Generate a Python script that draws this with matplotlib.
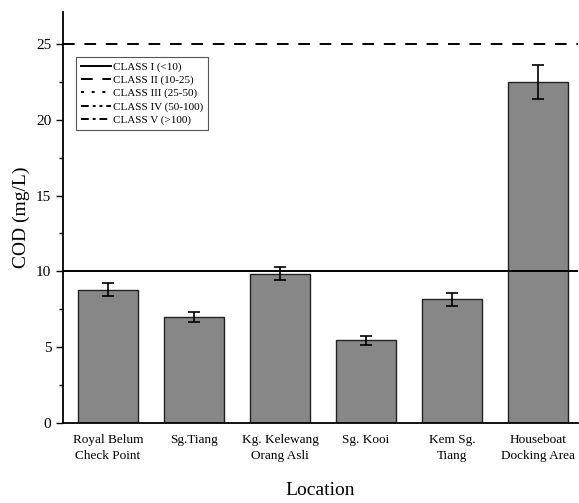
import numpy as np
import matplotlib
matplotlib.use("Agg")
import matplotlib.pyplot as plt
from matplotlib.ticker import MultipleLocator

locations = ["Royal Belum\nCheck Point", "Sg.Tiang", "Kg. Kelewang\nOrang Asli",
             "Sg. Kooi", "Kem Sg.\nTiang", "Houseboat\nDocking Area"]
cod = [8.8, 7.0, 9.85, 5.45, 8.15, 22.5]
cod_err = [0.45, 0.35, 0.45, 0.3, 0.4, 1.1]

class_labels = ["CLASS I (<10)", "CLASS II (10-25)", "CLASS III (25-50)",
                "CLASS IV (50-100)", "CLASS V (>100)"]
class_styles = ["-", (0, (6, 5)), (0, (1.5, 4)), (0, (4, 2, 1.5, 2, 1.5, 2)), (0, (4, 2, 1.5, 2))]
class_limits = [10, 25]

plt.rcParams["font.family"] = ["Liberation Serif", "DejaVu Serif"]

fig = plt.figure(figsize=(5.79, 5.03), dpi=100)
ax = fig.add_axes([0.109, 0.159, 0.889, 0.817])

x = np.arange(1, len(cod) + 1)
ax.bar(x, cod, width=0.7, color="#878787", edgecolor="#222222", linewidth=1.0,
       yerr=cod_err, capsize=4, error_kw={"elinewidth": 1.2, "capthick": 1.2, "ecolor": "black"})

handles = []
for i, (lab, ls) in enumerate(zip(class_labels, class_styles)):
    if i < len(class_limits):
        h = ax.axhline(class_limits[i], color="black", linestyle=ls, linewidth=1.4, label=lab)
    else:
        h, = ax.plot([], [], color="black", linestyle=ls, linewidth=1.4, label=lab)
    handles.append(h)

leg = ax.legend(handles=handles, loc="upper left", bbox_to_anchor=(0.014, 0.905),
                fontsize=8, frameon=True, fancybox=False, edgecolor="#555555",
                handlelength=2.7, handletextpad=0.2, labelspacing=0.3, borderpad=0.45)
leg.get_frame().set_linewidth(0.8)
leg.get_frame().set_alpha(1)

ax.set_xlim(0.48, 6.46)
ax.set_ylim(0, 27.1)
ax.yaxis.set_major_locator(MultipleLocator(5))
ax.yaxis.set_minor_locator(MultipleLocator(2.5))
ax.set_xticks(x)
ax.set_xticklabels(locations, fontsize=9.5, linespacing=1.45)
ax.tick_params(axis="x", length=0, pad=8)
ax.tick_params(axis="y", which="major", length=5, width=1, labelsize=11, direction="out")
ax.tick_params(axis="y", which="minor", length=3, width=1, direction="out")

for s in ["top", "right"]:
    ax.spines[s].set_visible(False)
for s in ["left", "bottom"]:
    ax.spines[s].set_linewidth(1.3)

ax.set_ylabel("COD (mg/L)", fontsize=14, labelpad=4)
ax.set_xlabel("Location", fontsize=14, labelpad=14)

fig.savefig("out.png", dpi=100)
